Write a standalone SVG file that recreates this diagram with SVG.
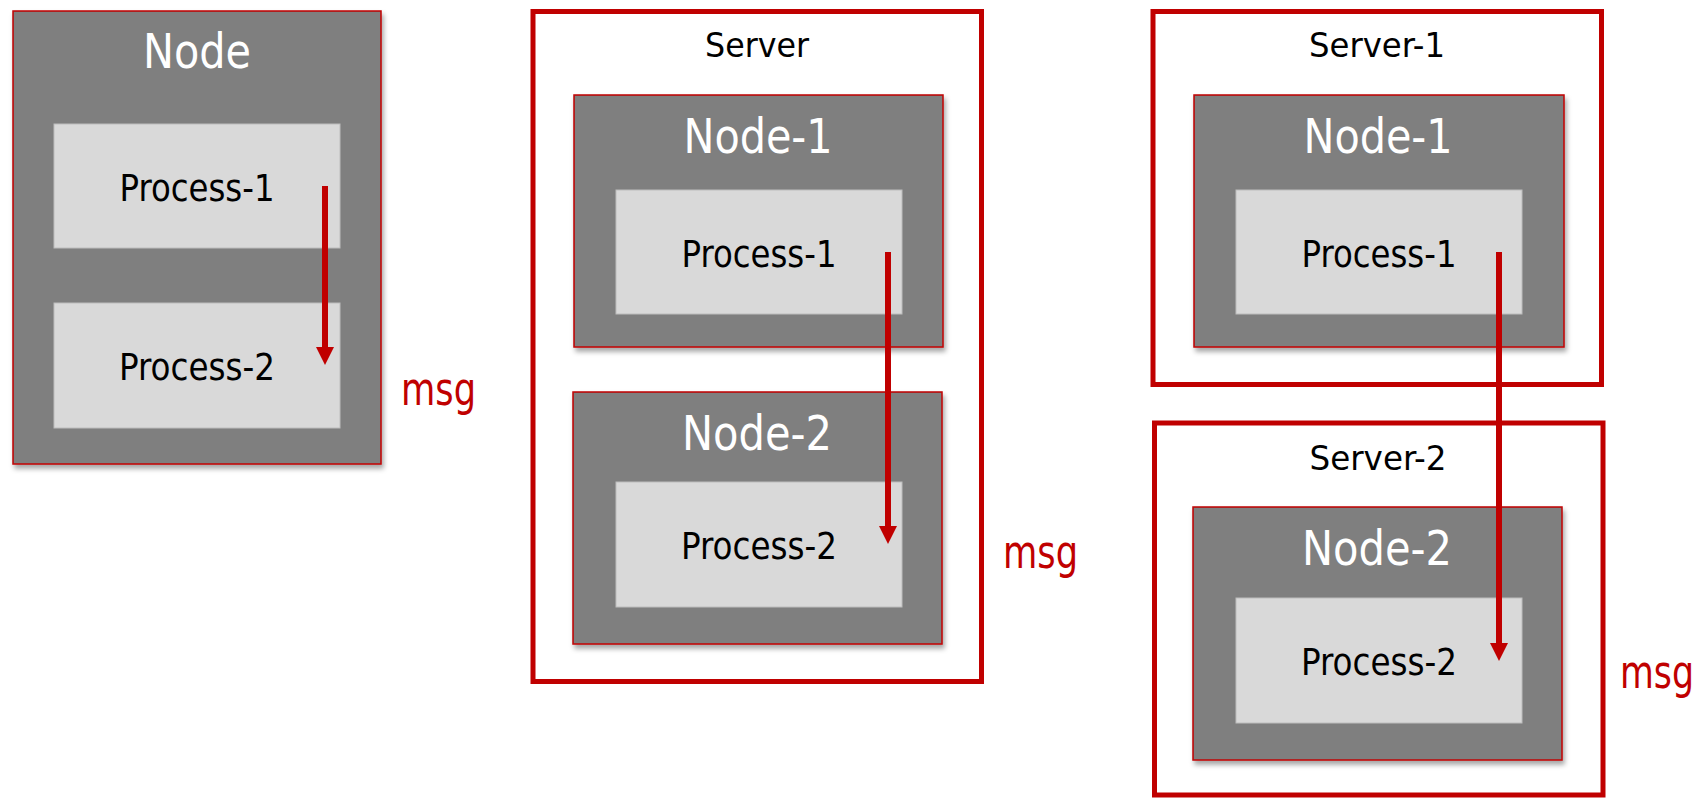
<svg xmlns="http://www.w3.org/2000/svg" width="1704" height="798" viewBox="0 0 1704 798">
  <defs>
    <filter id="sh" x="-10%" y="-10%" width="130%" height="130%">
      <feDropShadow dx="2" dy="4" stdDeviation="2.5" flood-color="#000" flood-opacity="0.35"/>
    </filter>
    <marker id="ah" markerUnits="userSpaceOnUse" markerWidth="18" markerHeight="18" viewBox="0 0 18 18" refX="3" refY="9" orient="auto">
      <path d="M0,0 L18,9 L0,18 z" fill="#c00000"/>
    </marker>
  </defs>
  <style>
    .srv { fill: #ffffff; stroke: #c00000; stroke-width: 5; }
    .node { fill: #7f7f7f; stroke: #c00000; stroke-width: 1.5; filter: url(#sh); }
    .proc { fill: #d9d9d9; stroke: #bdbdbd; stroke-width: 1; }
    .t { font-family: 'DejaVu Sans Condensed', 'DejaVu Sans', sans-serif; text-anchor: middle; }
    .nt { font-size: 48px; fill: #ffffff; }
    .pt { font-size: 37px; fill: #000000; }
    .st { font-size: 33px; fill: #000000; }
    .mt { font-size: 38px; fill: #c00000; text-anchor: start; }
    .arr { stroke: #c00000; stroke-width: 6; fill: none; marker-end: url(#ah); }
  </style>
  <rect width="1704" height="798" fill="#ffffff"/>

  <!-- Left: single node -->
  <g id="node-left">
    <rect class="node" x="13" y="11" width="368" height="453"/>
    <text class="t nt" x="197" y="68" textLength="108" lengthAdjust="spacingAndGlyphs">Node</text>
  </g>
  <g id="left-process-1">
    <rect class="proc" x="54" y="124" width="286" height="124"/>
    <text class="t pt" x="197" y="201" textLength="155" lengthAdjust="spacingAndGlyphs">Process-1</text>
  </g>
  <g id="left-process-2">
    <rect class="proc" x="54" y="303" width="286" height="125"/>
    <text class="t pt" x="197" y="380" textLength="156" lengthAdjust="spacingAndGlyphs">Process-2</text>
  </g>
  <g id="left-msg">
    <text class="t mt" transform="translate(401,405) scale(1,1.2)" x="0" y="0" textLength="75" lengthAdjust="spacingAndGlyphs">msg</text>
  </g>

  <!-- Middle: one server, two nodes -->
  <g id="server-mid">
    <rect class="srv" x="533" y="11.5" width="448.5" height="670"/>
    <text class="t st" x="757" y="57" textLength="104" lengthAdjust="spacingAndGlyphs">Server</text>
  </g>
  <g id="mid-node-1">
    <rect class="node" x="574" y="95" width="369" height="252"/>
    <text class="t nt" x="758" y="153" textLength="149" lengthAdjust="spacingAndGlyphs">Node-1</text>
  </g>
  <g id="mid-process-1">
    <rect class="proc" x="616" y="190" width="286" height="124"/>
    <text class="t pt" x="759" y="267" textLength="155" lengthAdjust="spacingAndGlyphs">Process-1</text>
  </g>
  <g id="mid-node-2">
    <rect class="node" x="573" y="392" width="369" height="252"/>
    <text class="t nt" x="757" y="450" textLength="150" lengthAdjust="spacingAndGlyphs">Node-2</text>
  </g>
  <g id="mid-process-2">
    <rect class="proc" x="616" y="482" width="286" height="125"/>
    <text class="t pt" x="759" y="559" textLength="156" lengthAdjust="spacingAndGlyphs">Process-2</text>
  </g>
  <g id="mid-msg">
    <text class="t mt" transform="translate(1003,568) scale(1,1.2)" x="0" y="0" textLength="75" lengthAdjust="spacingAndGlyphs">msg</text>
  </g>

  <!-- Right: two servers -->
  <g id="server-1">
    <rect class="srv" x="1153" y="11.5" width="448.5" height="373"/>
    <text class="t st" x="1377" y="57" textLength="136" lengthAdjust="spacingAndGlyphs">Server-1</text>
  </g>
  <g id="right-node-1">
    <rect class="node" x="1194" y="95" width="370" height="252"/>
    <text class="t nt" x="1378" y="153" textLength="149" lengthAdjust="spacingAndGlyphs">Node-1</text>
  </g>
  <g id="right-process-1">
    <rect class="proc" x="1236" y="190" width="286" height="124"/>
    <text class="t pt" x="1379" y="267" textLength="155" lengthAdjust="spacingAndGlyphs">Process-1</text>
  </g>
  <g id="server-2">
    <rect class="srv" x="1154.5" y="423" width="448.5" height="372"/>
    <text class="t st" x="1378" y="470" textLength="137" lengthAdjust="spacingAndGlyphs">Server-2</text>
  </g>
  <g id="right-node-2">
    <rect class="node" x="1193" y="507" width="369" height="253"/>
    <text class="t nt" x="1377" y="565" textLength="150" lengthAdjust="spacingAndGlyphs">Node-2</text>
  </g>
  <g id="right-process-2">
    <rect class="proc" x="1236" y="598" width="286" height="125"/>
    <text class="t pt" x="1379" y="675" textLength="156" lengthAdjust="spacingAndGlyphs">Process-2</text>
  </g>
  <g id="right-msg">
    <text class="t mt" transform="translate(1620,688) scale(1,1.2)" x="0" y="0" textLength="74" lengthAdjust="spacingAndGlyphs">msg</text>
  </g>

  <!-- Connectors -->
  <g id="connectors">
    <line class="arr" x1="325" y1="186" x2="325" y2="350"/>
    <line class="arr" x1="888" y1="252" x2="888" y2="529"/>
    <line class="arr" x1="1499" y1="252" x2="1499" y2="646"/>
  </g>
</svg>
